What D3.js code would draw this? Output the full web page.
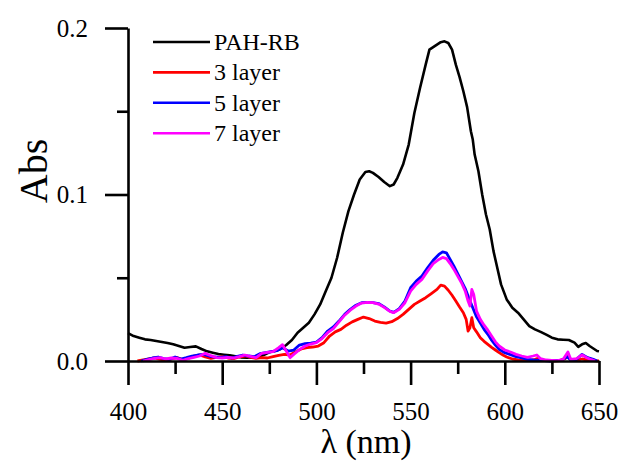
<!DOCTYPE html>
<html>
<head>
<meta charset="utf-8">
<script src="https://cdn.jsdelivr.net/npm/d3@7"></script>
<style>
  body { margin: 0; background: #fff; }
  svg { display: block; }
  text { font-family: "Liberation Serif", "Times New Roman", serif; fill: #000; }
</style>
</head>
<body>
<script>
// Series data: [wavelength nm, absorbance]
const pahRB = [
  [400,0.0168],[403,0.0150],[406,0.0140],[409,0.0130],[412,0.0126],[415,0.0120],[418,0.0114],
  [421,0.0108],[424,0.0100],[427,0.0090],[430,0.0080],[433,0.0084],[436,0.0088],[439,0.0072],
  [442,0.0058],[445,0.0050],[448,0.0042],[451,0.0038],[454,0.0034],[457,0.0028],[460,0.0022],
  [463,0.0020],[466,0.0022],[469,0.0026],[472,0.0036],[475,0.0052],[478,0.0060],[481,0.0072],
  [484,0.0096],[487,0.0126],[490,0.0170],[493,0.0200],[496,0.0230],[499,0.0280],[502,0.0340],
  [505,0.0420],[508,0.0500],[511,0.0620],[514,0.0770],[517,0.0900],[520,0.1000],[523,0.1090],
  [526,0.1135],[528,0.1140],[530,0.1130],[533,0.1105],[536,0.1075],[539,0.1050],[541,0.1060],
  [543,0.1100],[546,0.1180],[549,0.1300],[552,0.1490],[555,0.1640],[558,0.1780],[560,0.1870],
  [562,0.1885],[564,0.1900],[566,0.1915],[568,0.1920],[570,0.1910],[572,0.1870],[574,0.1780],
  [576,0.1705],[578,0.1620],[580,0.1525],[582,0.1380],[583,0.1330],[584,0.1240],[586,0.1140],
  [588,0.1000],[590,0.0880],[592,0.0790],[594,0.0660],[596,0.0560],[598,0.0460],[601,0.0370],
  [604,0.0320],[607,0.0290],[610,0.0250],[613,0.0210],[616,0.0190],[619,0.0175],[622,0.0158],
  [625,0.0140],[628,0.0130],[631,0.0128],[634,0.0126],[637,0.0110],[639,0.0085],[641,0.0100],
  [643,0.0108],[645,0.0090],[647,0.0075],[649,0.0060],[650,0.0058]
];

const layer3 = [
  [405,0.0000],[408,0.0006],[411,0.0012],[414,0.0018],[417,0.0010],[420,0.0006],[423,0.0012],
  [426,0.0020],[429,0.0008],[432,0.0016],[435,0.0030],[438,0.0036],[441,0.0024],[444,0.0016],
  [447,0.0022],[450,0.0026],[453,0.0018],[456,0.0014],[459,0.0024],[462,0.0030],[465,0.0022],
  [468,0.0016],[471,0.0020],[474,0.0018],[477,0.0026],[480,0.0034],[483,0.0040],[486,0.0036],
  [489,0.0056],[492,0.0072],[495,0.0080],[498,0.0084],[501,0.0090],[504,0.0110],[507,0.0150],
  [510,0.0175],[513,0.0190],[516,0.0215],[519,0.0235],[522,0.0250],[525,0.0264],[528,0.0255],
  [531,0.0240],[534,0.0232],[537,0.0228],[540,0.0236],[543,0.0255],[546,0.0280],[549,0.0310],
  [552,0.0340],[555,0.0360],[558,0.0380],[561,0.0405],[564,0.0430],[566,0.0456],[568,0.0450],
  [570,0.0425],[572,0.0395],[574,0.0360],[576,0.0324],[578,0.0290],[579.5,0.0250],[580.5,0.0180],
  [581.5,0.0200],[582.5,0.0260],[583.5,0.0200],[585,0.0175],[587,0.0140],[589,0.0118],
  [591,0.0100],[593,0.0082],[595,0.0066],[597,0.0050],[599,0.0036],[601,0.0024],[604,0.0012],
  [607,0.0006],[610,0.0004],[613,0.0002],[616,0.0010],[618,0.0018],[620,0.0004],[623,0.0002],
  [626,0.0000],[629,0.0002],[632,0.0014],[633.5,0.0030],[635,0.0004],[638,0.0002],[641,0.0012],
  [644,0.0006],[647,0.0002],[650,0.0000]
];

const layer5 = [
  [407,0.0000],[410,0.0010],[413,0.0018],[416,0.0024],[419,0.0014],[422,0.0010],[425,0.0024],
  [428,0.0012],[431,0.0020],[434,0.0030],[437,0.0036],[440,0.0040],[443,0.0030],[446,0.0024],
  [449,0.0022],[452,0.0026],[455,0.0018],[458,0.0028],[461,0.0036],[464,0.0030],[467,0.0026],
  [470,0.0044],[473,0.0050],[476,0.0056],[479,0.0062],[482,0.0080],[485,0.0060],[488,0.0066],
  [491,0.0096],[494,0.0104],[497,0.0108],[500,0.0114],[503,0.0140],[506,0.0180],[509,0.0205],
  [512,0.0240],[515,0.0280],[518,0.0310],[521,0.0335],[524,0.0350],[527,0.0352],[530,0.0350],
  [533,0.0345],[536,0.0325],[539,0.0300],[541,0.0292],[544,0.0315],[547,0.0360],[550,0.0440],
  [553,0.0480],[556,0.0510],[559,0.0560],[562,0.0605],[565,0.0640],[567,0.0655],[569,0.0650],
  [571,0.0610],[573,0.0570],[575,0.0525],[577,0.0480],[579,0.0435],[581,0.0375],[583,0.0320],
  [585,0.0265],[587,0.0228],[589,0.0190],[591,0.0160],[593,0.0125],[595,0.0095],[597,0.0070],
  [600,0.0050],[603,0.0038],[606,0.0026],[609,0.0018],[612,0.0010],[615,0.0006],[618,0.0004],
  [621,0.0002],[624,0.0000],[627,0.0004],[630,0.0002],[633,0.0026],[635,0.0006],[638,0.0010],
  [641,0.0040],[644,0.0020],[647,0.0010],[649,0.0000]
];

const layer7 = [
  [408,0.0000],[411,0.0008],[414,0.0016],[417,0.0020],[420,0.0012],[423,0.0018],[426,0.0016],
  [429,0.0004],[432,0.0014],[435,0.0022],[438,0.0030],[441,0.0046],[444,0.0032],[447,0.0020],
  [450,0.0018],[453,0.0022],[456,0.0018],[459,0.0026],[462,0.0036],[465,0.0028],[468,0.0020],
  [471,0.0046],[474,0.0052],[477,0.0056],[480,0.0080],[482,0.0098],[484,0.0060],[486,0.0020],
  [488,0.0040],[491,0.0068],[494,0.0090],[497,0.0102],[500,0.0110],[503,0.0135],[506,0.0170],
  [509,0.0195],[512,0.0235],[515,0.0275],[518,0.0305],[521,0.0330],[524,0.0348],[527,0.0352],
  [530,0.0350],[533,0.0342],[536,0.0322],[539,0.0298],[541,0.0290],[544,0.0310],[547,0.0350],
  [550,0.0420],[553,0.0460],[556,0.0490],[559,0.0540],[562,0.0585],[565,0.0610],[567,0.0622],
  [569,0.0615],[571,0.0585],[573,0.0550],[575,0.0510],[577,0.0470],[579,0.0420],[580.5,0.0360],
  [581.5,0.0330],[582.5,0.0430],[583.5,0.0400],[585,0.0300],[587,0.0250],[589,0.0215],
  [591,0.0185],[593,0.0150],[595,0.0115],[597,0.0090],[600,0.0066],[603,0.0054],[606,0.0040],
  [609,0.0030],[612,0.0022],[615,0.0030],[617,0.0036],[619,0.0014],[622,0.0006],[625,0.0004],
  [628,0.0002],[631,0.0010],[633.5,0.0054],[635,0.0010],[638,0.0014],[641,0.0036],[643.5,0.0020],
  [646,0.0008],[648,0.0000]
];

const seriesNames = ['PAH-RB', '3 layer', '5 layer', '7 layer'];
const seriesColors = ['#000000', '#ff0000', '#0000ff', '#ff00ff'];
const seriesData = [pahRB, layer3, layer5, layer7];

const xMajor = [400, 450, 500, 550, 600, 650];
const xMinor = [425, 475, 525, 575, 625];
const yMajor = [0.0, 0.1, 0.2];
const yMinor = [0.05, 0.15];

const width = 623;
const height = 462;
const serif = '"Liberation Serif", "Times New Roman", serif';

const svg = d3.select('body').append('svg')
  .attr('width', width)
  .attr('height', height);

const x = d3.scaleLinear().domain([400, 650]).range([128, 599]);
const y = d3.scaleLinear().domain([0, 0.2]).range([361, 28]);

// Curves
const line = d3.line()
  .x(d => x(d[0]))
  .y(d => y(d[1]));

svg.selectAll('path.curve')
  .data(seriesData)
  .enter().append('path')
  .attr('class', 'curve')
  .attr('d', line)
  .attr('fill', 'none')
  .attr('stroke', (d, i) => seriesColors[i])
  .attr('stroke-width', (d, i) => i === 0 ? 2.6 : 2.8)
  .attr('stroke-linejoin', 'round');

// Axes
function styleAxis(g) {
  g.attr('font-family', serif).attr('font-size', 25);
  g.selectAll('path, line').attr('stroke', '#000').attr('stroke-width', 2.6);
  g.selectAll('text').attr('fill', '#000');
}

svg.append('g')
  .attr('transform', `translate(0,${y(0)})`)
  .call(d3.axisBottom(x).tickValues(xMajor).tickSize(24).tickSizeOuter(0).tickPadding(17)
    .tickFormat(d3.format('d')))
  .call(styleAxis);

svg.append('g')
  .attr('transform', `translate(0,${y(0)})`)
  .call(d3.axisBottom(x).tickValues(xMinor).tickSize(13).tickSizeOuter(0).tickFormat(''))
  .call(styleAxis)
  .select('.domain').remove();

svg.append('g')
  .attr('transform', `translate(${x(400)},0)`)
  .call(d3.axisLeft(y).tickValues(yMajor).tickSize(23).tickSizeOuter(0).tickPadding(17)
    .tickFormat(d3.format('.1f')))
  .call(styleAxis);

svg.append('g')
  .attr('transform', `translate(${x(400)},0)`)
  .call(d3.axisLeft(y).tickValues(yMinor).tickSize(11).tickSizeOuter(0).tickFormat(''))
  .call(styleAxis)
  .select('.domain').remove();

// Axis titles
svg.append('text')
  .attr('transform', 'translate(47,171) rotate(-90)')
  .attr('text-anchor', 'middle')
  .attr('font-family', serif)
  .style('font-size', '40px')
  .text('Abs');

svg.append('text')
  .attr('x', 366)
  .attr('y', 453)
  .attr('text-anchor', 'middle')
  .attr('font-family', serif)
  .style('font-size', '34px')
  .text('λ (nm)');

// Legend
const legend = svg.append('g');
seriesNames.forEach((name, i) => {
  const ly = 42 + i * 30.4;
  legend.append('line')
    .attr('x1', 153).attr('x2', 210)
    .attr('y1', ly).attr('y2', ly)
    .attr('stroke', seriesColors[i])
    .attr('stroke-width', 2.6);
  legend.append('text')
    .attr('x', 214)
    .attr('y', ly + 8)
    .attr('font-family', serif)
    .style('font-size', '24px')
    .text(name);
});
</script>
</body>
</html>
